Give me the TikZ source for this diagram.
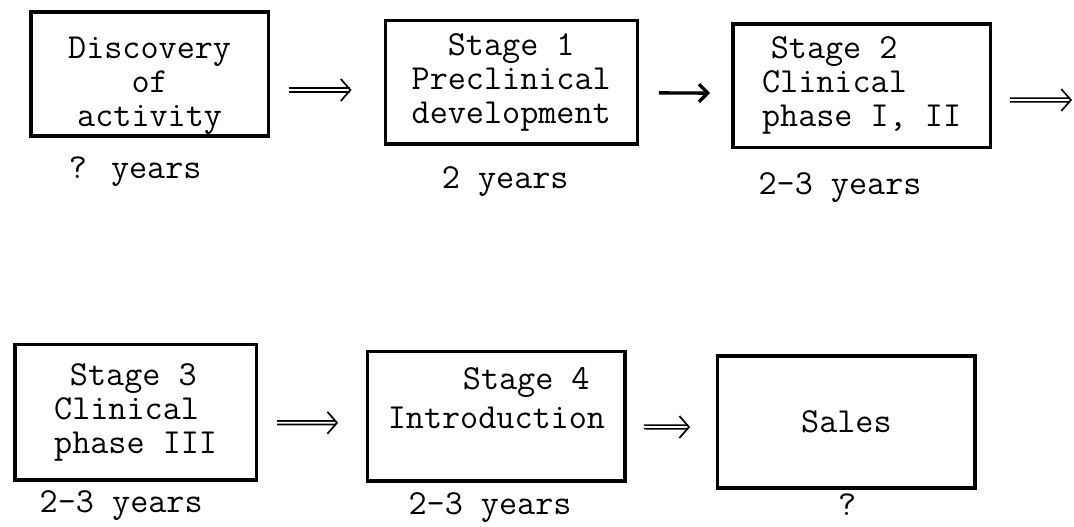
\documentclass[tikz,border=0pt]{standalone}
\usetikzlibrary{arrows.meta}

\begin{document}
\begin{tikzpicture}[line width=2.4pt,font=\ttfamily\fontsize{25}{24}\selectfont,
  stagebox/.style={draw,inner sep=0pt},
  flow/.style={double,double distance=1.3pt,line width=1.2pt,-{Straight Barb[length=2.4mm,width=5.5mm]}},
  flowsolid/.style={line width=2.4pt,-{Straight Barb[length=2.2mm,width=4.4mm]}}]
  \useasboundingbox (0,0) rectangle (26.85,-13.15);
  % first row: discovery, stage 1, stage 2
  \node[stagebox,minimum width=5.93cm,minimum height=3.1cm,align=center] (disc) at (3.74,-1.85) {\rule{0pt}{32pt}Discovery\\of\\activity};
  \node[stagebox,minimum width=6.3cm,minimum height=3.08cm,align=center] (pre) at (12.78,-2.06) {Stage 1\\Preclinical\\development};
  \node[stagebox,minimum width=6.43cm,minimum height=3.08cm,align=left] (clin) at (21.54,-2.14) {\hspace{0.25em}Stage 2\\Clinical\\phase I, II};
  \node (discyr) at (3.38,-4.3) {? years};
  \node (preyr) at (12.63,-4.55) {2 years};
  \node (clinyr) at (21.0,-4.68) {2-3 years};
  % second row: stage 3, stage 4, sales
  \node[stagebox,minimum width=6.03cm,minimum height=3.38cm,align=left] (ph3) at (3.39,-10.31) {\hspace{0.45em}Stage 3\\Clinical\\phase III};
  \node[stagebox,minimum width=6.43cm,minimum height=3.23cm,align=center] (intro) at (12.41,-10.41) {\hspace{1.7em}Stage 4\\[4pt]Introduction\\[2pt]~};
  \node[stagebox,minimum width=6.43cm,minimum height=3.3cm] (sales) at (21.16,-10.55) {Sales};
  \node (ph3yr) at (3.03,-12.63) {2-3 years};
  \node (introyr) at (12.25,-12.68) {2-3 years};
  \node (salesyr) at (21.18,-12.62) {?};
  % arrows
  \coordinate (next) at (26.8,-2.5);
  \draw[flow,shorten <=0.48cm,shorten >=0.8cm] ([yshift=-0.4cm]disc.east) -- ([yshift=-0.19cm]pre.west);
  \draw[flowsolid,shorten <=0.5cm,shorten >=0.53cm] ([yshift=-0.26cm]pre.east) -- ([yshift=-0.19cm]clin.west);
  \draw[flow,shorten <=0.45cm] ([yshift=-0.36cm]clin.east) -- (next);
  \draw[flow,shorten <=0.48cm,shorten >=0.7cm] ([yshift=-0.26cm]ph3.east) -- ([yshift=-0.16cm]intro.west);
  \draw[flow,shorten <=0.43cm,shorten >=0.65cm] ([yshift=-0.26cm]intro.east) -- ([yshift=-0.13cm]sales.west);
\end{tikzpicture}
\end{document}
